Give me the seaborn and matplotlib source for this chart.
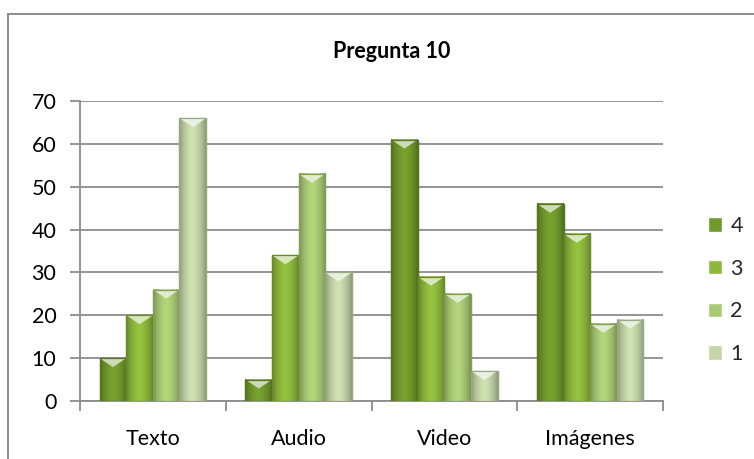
import numpy as np
import pandas as pd
import matplotlib
matplotlib.use("Agg")
import matplotlib.pyplot as plt
import seaborn as sns
from matplotlib.patches import Polygon, Rectangle
from matplotlib.colors import to_rgb

# Chart data
categories = ["Texto", "Audio", "Video", "Imágenes"]
series_names = ["4", "3", "2", "1"]
values_4 = [10, 5, 61, 46]
values_3 = [20, 34, 29, 39]
values_2 = [26, 53, 25, 18]
values_1 = [66, 30, 7, 19]
y_ticks = [0, 10, 20, 30, 40, 50, 60, 70]
title = "Pregunta 10"

series_values = {"4": values_4, "3": values_3, "2": values_2, "1": values_1}
df = pd.DataFrame(
    [(cat, s, series_values[s][i]) for s in series_names for i, cat in enumerate(categories)],
    columns=["categoria", "serie", "valor"],
)

palette = {"4": "#71992c", "3": "#8db83c", "2": "#a9ca74", "1": "#c4d5a8"}
edge = {"4": "#56761f", "3": "#6a8d2a", "2": "#82a058", "1": "#98a986"}

sns.set_theme(style="white")
plt.rcParams["font.family"] = ["Lato", "DejaVu Sans"]
FS = 15.5

fig = plt.figure(figsize=(7.54, 4.59), dpi=100)
ax = fig.add_axes([80 / 754, 1 - 401 / 459, (663 - 80) / 754, (401 - 101) / 459])

sns.barplot(data=df, x="categoria", y="valor", hue="serie", order=categories,
            hue_order=series_names, palette=palette, width=0.73, ax=ax,
            legend=True, saturation=1, zorder=3)

ax.set_ylim(0, 70)
ax.set_xlim(-0.5, len(categories) - 0.5)
ax.set_yticks(y_ticks)
ax.set_xlabel("")
ax.set_ylabel("")
ax.set_title("")

# Bevel styling on each bar: darker sides, bright chevron at the top
px_per_unit = ax.get_window_extent().height / 70.0
for container, s in zip(ax.containers, series_names):
    base = np.array(to_rgb(palette[s]))
    for bar in container:
        x, w, h = bar.get_x(), bar.get_width(), bar.get_height()
        bar.set_edgecolor(edge[s])
        bar.set_linewidth(0.9)
        # horizontal shading profile
        t = np.linspace(-1, 1, 60)
        shade = 1 - 0.28 * np.abs(t) ** 2.5
        shade = shade + 0.06 * np.exp(-(t / 0.35) ** 2)
        img = np.clip(base[None, None, :] * shade[None, :, None], 0, 1)
        ax.imshow(img, extent=(x, x + w, 0, h), aspect="auto", zorder=3.5,
                  interpolation="bilinear")
        depth = min(9 / px_per_unit, h * 0.45)
        light = np.clip(base + (1 - base) * 0.65, 0, 1)
        ax.add_patch(Polygon([(x, h), (x + w, h), (x + w / 2, h - depth)],
                             closed=True, facecolor=light, edgecolor="none",
                             zorder=3.6))
        ax.add_patch(Rectangle((x, 0), w, h, facecolor="none",
                               edgecolor=edge[s], linewidth=0.9, zorder=3.7))

ax.set_ylim(0, 70)
ax.set_xlim(-0.5, len(categories) - 0.5)

# Grid and axes
ax.yaxis.grid(True, color="#8c8c8c", linewidth=1.3, zorder=0)
ax.xaxis.grid(False)
ax.set_axisbelow(True)
for side in ["top", "right"]:
    ax.spines[side].set_visible(False)
ax.spines["left"].set_color("#8c8c8c")
ax.spines["left"].set_linewidth(1.3)
ax.spines["bottom"].set_color("#8c8c8c")
ax.spines["bottom"].set_linewidth(1.3)

ax.set_xticks(np.arange(-0.5, len(categories)), minor=True)
ax.tick_params(axis="x", which="minor", direction="out", length=7, width=1.3,
               color="#8c8c8c", bottom=True)
ax.tick_params(axis="x", which="major", length=0, pad=20, labelsize=FS,
               labelcolor="black")
ax.tick_params(axis="y", direction="out", length=7, width=1.3, color="#8c8c8c",
               left=True, pad=10, labelsize=FS, labelcolor="black")

# Legend
handles, labels = ax.get_legend_handles_labels()
ax.get_legend().remove()
fig.legend(handles, labels, loc="center left", bbox_to_anchor=(0.913, 0.368),
           frameon=False, fontsize=FS, handlelength=0.65, handleheight=0.65,
           handletextpad=0.4, labelspacing=1.05)

# Title
fig.text(0.52, 1 - 52 / 459, title, ha="center", va="center",
         fontsize=FS, fontweight="bold", color="black")

# Chart frame
fig.patches.append(Rectangle((8 / 754, -0.1), 1.2, 1 - 14 / 459 + 0.1,
                             transform=fig.transFigure, fill=False,
                             edgecolor="#8c8c8c", linewidth=1.4))

fig.savefig("out.png", dpi=100)
